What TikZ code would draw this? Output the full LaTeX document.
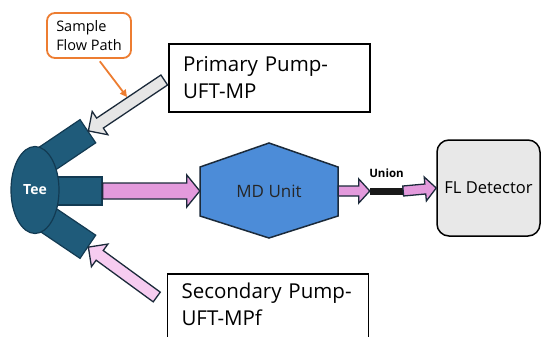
\documentclass[tikz,border=0pt]{standalone}
\usepackage{fontspec}
\setmainfont{Open Sans}
\usetikzlibrary{shapes.geometric,arrows.meta,calc,positioning}

\definecolor{teeblue}{HTML}{1F5B7A}
\definecolor{teeline}{HTML}{123A52}
\definecolor{mdblue}{HTML}{4C8CD8}
\definecolor{edge}{HTML}{1B2A3A}
\definecolor{flowpink}{HTML}{E39ADC}
\definecolor{palepink}{HTML}{F6CCF0}
\definecolor{palegray}{HTML}{E6E6E6}
\definecolor{detgray}{HTML}{E8E8E8}
\definecolor{noteorange}{HTML}{ED7D31}

\begin{document}
\begin{tikzpicture}[x=1pt,y=-1pt,
    fat/.style n args={4}{draw=edge, line width=1.3pt, line join=miter, fill=#4,
      to path={($(\tikztotarget)!#3!(\tikztostart)$) coordinate (fathead)
        ($(\tikztostart)!#1!90:(\tikztotarget)$) -- ($(fathead)!#1!90:(\tikztotarget)$)
        -- ($(fathead)!#2!90:(\tikztotarget)$) -- (\tikztotarget)
        -- ($(fathead)!#2!-90:(\tikztotarget)$) -- ($(fathead)!#1!-90:(\tikztotarget)$)
        -- ($(\tikztostart)!#1!-90:(\tikztotarget)$) -- cycle}},
    bigflow/.style={fat={8pt}{16pt}{13pt}{#1}},
    sideflow/.style={fat={6pt}{14pt}{14pt}{#1}},
    smallflow/.style={fat={5pt}{12pt}{11pt}{#1}},
    arm/.style={rectangle, draw=teeline, line width=1.2pt, fill=teeblue, inner sep=0pt,
      minimum width=60pt, minimum height=28pt},
    tee/.style={ellipse, draw=teeline, line width=1.2pt, fill=teeblue, text=white,
      font=\bfseries\fontsize{14}{16}\selectfont, minimum width=48pt, minimum height=87pt, inner sep=0pt},
    pumpbox/.style={draw=black, line width=1.5pt, fill=white, align=left, text width=173pt,
      inner xsep=14pt, font=\fontsize{20.5}{27}\selectfont},
    note/.style={draw=noteorange, line width=1.8pt, rounded corners=8pt, fill=white, align=left,
      font=\fontsize{14.5}{19}\selectfont, minimum width=84pt, minimum height=45pt},
    detector/.style={draw=black, line width=1.5pt, fill=detgray, rounded corners=12pt,
      minimum width=103pt, minimum height=96pt, font=\fontsize{16.5}{20}\selectfont}]
  \useasboundingbox (0,0) rectangle (541,337);

  % Tee
  \node[arm, rotate=34] (armup) at (63,148) {};
  \node[arm, rotate=-34] (armlow) at (63,230) {};
  \node[arm, minimum width=52pt] (armmid) at (76,191) {};
  \node[tee] (tee) at (35,190) {Tee};

  % MD unit
  \draw[edge, line width=1.5pt, fill=mdblue] (200,167) -- (269,143) -- (338,167) -- (338,216)
    -- (269,238) -- (200,216) -- cycle;
  \node[font=\fontsize{17}{20}\selectfont, text=black!85, minimum width=138pt, minimum height=49pt]
    (md) at (269,191) {MD Unit};

  % pumps
  \node[pumpbox, minimum height=68pt] (primary) at (269.5,78) {Primary~Pump-\\UFT-MP};
  \node[pumpbox, anchor=north, inner ysep=9pt, text depth=40pt] (secondary) at (268,273)
    {Secondary~Pump-\\UFT-MPf};

  \node[note] (sample) at (89,35.5) {Sample\\Flow Path};
  \node[detector] (fl) at (488.5,188) {FL Detector};

  \node[fill=black!90, minimum width=33pt, minimum height=7pt, inner sep=0pt] (union) at (386.5,191) {};
  \node[font=\bfseries\fontsize{11.5}{13}\selectfont, inner sep=0pt, above=9pt of union] (unionlbl) {Union};

  \coordinate (pritail) at ($(primary.west)+(-4,2)$);
  \coordinate (sectail) at ($(secondary.north west)+(-10,24)$);
  \coordinate (notetip) at (127,97);

  \draw[sideflow=palegray] (pritail) to (armup.east);
  \draw[sideflow=palepink] (sectail) to (armlow.east);
  \draw[bigflow=flowpink] (armmid.east) to (md.west);
  \draw[smallflow=flowpink] (md.east) to (union.west);
  \draw[smallflow=flowpink] (union.east) to (fl.west);

  \draw[noteorange, line width=1.8pt, -{Triangle[length=7pt,width=7pt]}, shorten <=3pt]
    ($(sample.south)+(9,0)$) -- (notetip);
\end{tikzpicture}
\end{document}
